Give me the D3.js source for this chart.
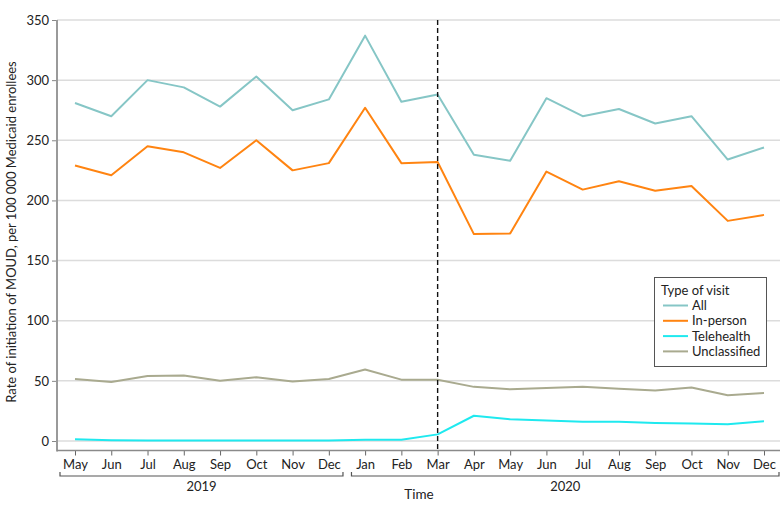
<!DOCTYPE html>
<html>
<head>
<meta charset="utf-8">
<script src="https://cdn.jsdelivr.net/npm/d3@7"></script>
<style>
  body { margin: 0; background: #fff; }
  svg text { font-family: Lato, "Noto Sans", sans-serif; fill: #222; }
</style>
</head>
<body>
<svg id="chart" width="780" height="512"></svg>
<script>
const months = ["May","Jun","Jul","Aug","Sep","Oct","Nov","Dec","Jan","Feb","Mar","Apr","May","Jun","Jul","Aug","Sep","Oct","Nov","Dec"];
const years = ["2019","2019","2019","2019","2019","2019","2019","2019","2020","2020","2020","2020","2020","2020","2020","2020","2020","2020","2020","2020"];
const allVisits =    [281, 270, 300, 294, 278, 303, 275, 284, 337, 282, 288, 238, 233, 285, 270, 276, 264, 270, 234, 244];
const inPerson =     [229, 221, 245, 240, 227, 250, 225, 231, 277, 231, 232, 172, 172.5, 224, 209, 216, 208, 212, 183, 188];
const telehealth =   [1.5, 0.7, 0.5, 0.5, 0.5, 0.5, 0.5, 0.5, 1, 1, 5.5, 21, 18, 17, 16, 16, 15, 14.5, 14, 16.5];
const unclassified = [51.5, 49, 54, 54.5, 50, 53, 49.5, 51.5, 59.5, 51, 51, 45, 43, 44, 45, 43.5, 42, 44.5, 38, 40];
const yTicks = [0, 50, 100, 150, 200, 250, 300, 350];
const seriesNames = ["All", "In-person", "Telehealth", "Unclassified"];
const seriesColors = ["#86c6c6", "#ff8411", "#1fe9ef", "#a9aa8f"];
const eventMonth = "2020-Mar";
const yTitle = "Rate of initiation of MOUD, per 100 000 Medicaid enrollees";
const xTitle = "Time";
const legendTitle = "Type of visit";

const seriesValues = [allVisits, inPerson, telehealth, unclassified];
const keys = months.map((m, i) => years[i] + "-" + m);

const svg = d3.select("#chart");
const x = d3.scalePoint().domain(keys).range([75, 764]).padding(0);
const y = d3.scaleLinear().domain([0, 350]).range([441, 20]);

const axisLeftX = 57, axisBottomY = 450.5;

// gridlines
svg.append("g").selectAll("line").data(yTicks).join("line")
  .attr("x1", axisLeftX).attr("x2", 780)
  .attr("y1", d => y(d)).attr("y2", d => y(d))
  .attr("stroke", "#dcdcdc").attr("stroke-width", 1.5);

// y axis
const gy = svg.append("g").attr("transform", `translate(${axisLeftX},0)`)
  .call(d3.axisLeft(y).tickValues(yTicks).tickSize(5).tickPadding(3));
gy.select(".domain").remove();
gy.selectAll(".tick line").attr("stroke", "#888");
gy.selectAll(".tick text").style("font-size", "13px").attr("fill", "#222");
svg.append("line").attr("x1", axisLeftX).attr("x2", axisLeftX)
  .attr("y1", y(350)).attr("y2", axisBottomY + 1)
  .attr("stroke", "#9a9a9a").attr("stroke-width", 2);

// x axis
const gx = svg.append("g").attr("transform", `translate(0,${axisBottomY})`)
  .call(d3.axisBottom(x).tickSize(5).tickPadding(4).tickFormat(k => k.split("-")[1]));
gx.select(".domain").remove();
gx.selectAll(".tick line").attr("stroke", "#666");
gx.selectAll(".tick text").style("font-size", "13px").attr("fill", "#222");
svg.append("line").attr("x1", axisLeftX).attr("x2", 780)
  .attr("y1", axisBottomY).attr("y2", axisBottomY)
  .attr("stroke", "#8a8a8a").attr("stroke-width", 1.5);

// year brackets
const yearGroups = d3.groups(keys, k => k.split("-")[0]);
const step = x.step();
const bracketY = 476;
yearGroups.forEach(([yr, ks], gi) => {
  const x0 = gi === 0 ? 60 : x(ks[0]) - step / 2 + 4.5;
  const x1 = gi === 0 ? x(ks[ks.length - 1]) + step / 2 - 4 : 779;
  svg.append("path")
    .attr("d", `M${x0},${bracketY - 4}V${bracketY}H${x1}V${bracketY - 4}`)
    .attr("fill", "none").attr("stroke", "#555").attr("stroke-width", 1.2);
  svg.append("text").attr("x", (x0 + x1) / 2).attr("y", 491)
    .attr("text-anchor", "middle").style("font-size", "13px").text(yr);
});

svg.append("text").attr("x", 419).attr("y", 499).attr("text-anchor", "middle")
  .style("font-size", "13.5px").text(xTitle);

svg.append("text").attr("transform", "translate(16,232) rotate(-90)")
  .attr("text-anchor", "middle").style("font-size", "13px").text(yTitle);

// lines
const line = d3.line().x((d, i) => x(keys[i])).y(d => y(d));
const drawOrder = [3, 2, 0, 1];
drawOrder.forEach(si => {
  svg.append("path").datum(seriesValues[si])
    .attr("d", line).attr("fill", "none")
    .attr("stroke", seriesColors[si]).attr("stroke-width", 2)
    .attr("stroke-linejoin", "round");
});

// event line
svg.append("line").attr("x1", x(eventMonth)).attr("x2", x(eventMonth))
  .attr("y1", y(350)).attr("y2", axisBottomY)
  .attr("stroke", "#111").attr("stroke-width", 1.4).attr("stroke-dasharray", "5,3");

// legend
const lg = svg.append("g");
lg.append("rect").attr("x", 654.5).attr("y", 277.5).attr("width", 112).attr("height", 89)
  .attr("fill", "#fff").attr("stroke", "#555").attr("stroke-width", 1);
lg.append("text").attr("x", 661).attr("y", 295).style("font-size", "13px").text(legendTitle);
seriesNames.forEach((n, i) => {
  const cy = 305.5 + i * 15.3;
  lg.append("line").attr("x1", 663).attr("x2", 688).attr("y1", cy).attr("y2", cy)
    .attr("stroke", seriesColors[i]).attr("stroke-width", 2);
  lg.append("text").attr("x", 692).attr("y", cy + 4.5).style("font-size", "13px").text(n);
});
</script>
</body>
</html>
